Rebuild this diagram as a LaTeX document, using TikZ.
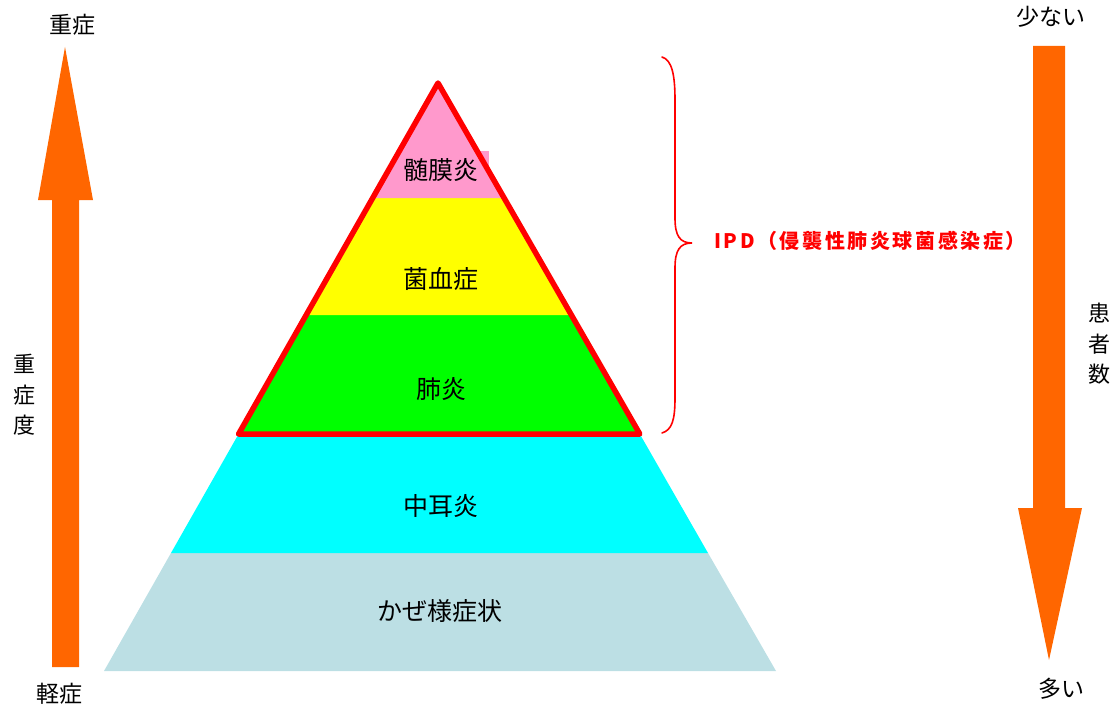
\documentclass[tikz,border=0pt]{standalone}
\usepackage{fontspec}
\newfontfamily\jp{Noto Sans CJK JP}
\newfontfamily\jpsp[LetterSpace=13]{Noto Sans CJK JP}
\definecolor{pinkL}{HTML}{FF99CC}
\definecolor{yellowL}{HTML}{FFFF00}
\definecolor{greenL}{HTML}{00FF00}
\definecolor{cyanL}{HTML}{00FFFF}
\definecolor{blueL}{HTML}{BCDFE4}
\definecolor{arrowOr}{HTML}{FF6600}
\definecolor{redL}{HTML}{FF0000}
\tikzset{
  lvl/.style={font=\jp\fontsize{25}{25}\selectfont, inner sep=0pt},
  side/.style={font=\jp\fontsize{23}{23}\selectfont, inner sep=0pt},
  vert/.style={font=\jp\fontsize{22}{30.5}\selectfont, align=center, inner sep=0pt},
  bigarrow/.style={fill=arrowOr, draw=none},
}
\begin{document}
\begin{tikzpicture}[x=1pt,y=-1pt]
\useasboundingbox (0,0) rectangle (1119,709);
% layers
\fill[blueL] (171,553) -- (708,553) -- (776,671) -- (104,671) -- cycle;
\fill[cyanL] (238.6,434) -- (639.8,434) -- (708,553) -- (171,553) -- cycle;
\fill[greenL] (306.2,315) -- (571.4,315) -- (639.8,434) -- (238.6,434) -- cycle;
\fill[yellowL] (372.7,198) -- (504.1,198) -- (571.4,315) -- (306.2,315) -- cycle;
\fill[pinkL] (478,151) rectangle (489,198);
\fill[pinkL] (438,83) -- (504.1,198) -- (372.7,198) -- cycle;
% red outline
\draw[redL, line width=5.5pt, line join=round] (438,83) -- (639.8,434) -- (238.6,434) -- cycle;
% labels
\node[lvl] (l1) at (441,170) {髄膜炎};
\node[lvl] (l2) at (441,279) {菌血症};
\node[lvl] (l3) at (441,389) {肺炎};
\node[lvl] (l4) at (441,506) {中耳炎};
\node[lvl] (l5) at (440,611) {かぜ様症状};
% left arrow
\fill[bigarrow] (52,667) -- (52,200) -- (38,200) -- (65,47) -- (93,200) -- (79,200) -- (79,667) -- cycle;
\node[side] (top) at (72,25) {重症};
\node[side] (bot) at (59,694) {軽症};
\node[vert] (sev) at (24,395) {重\\症\\度};
% right arrow
\fill[bigarrow] (1033,46) -- (1065,46) -- (1065,508) -- (1082,508) -- (1049,660) -- (1018,508) -- (1033,508) -- cycle;
\node[side] (few) at (1051,17) {少ない};
\node[side] (many) at (1061,689) {多い};
\node[vert] (pat) at (1099,344) {患\\者\\数};
% brace
\draw[redL, line width=1.6pt, line cap=round]
  (662,57) .. controls (672,60) and (675,75) .. (675,100) -- (675,218)
  .. controls (675,236) and (680,243) .. (692,243)
  .. controls (680,243) and (675,250) .. (675,268) -- (675,398)
  .. controls (675,420) and (672,430) .. (662,433);
\node[anchor=west, inner sep=0pt, text=redL, font=\jpsp\bfseries\fontsize{20}{20}\selectfont] (ipd) at (714,241) {IPD（侵襲性肺炎球菌感染症）};
\end{tikzpicture}
\end{document}
